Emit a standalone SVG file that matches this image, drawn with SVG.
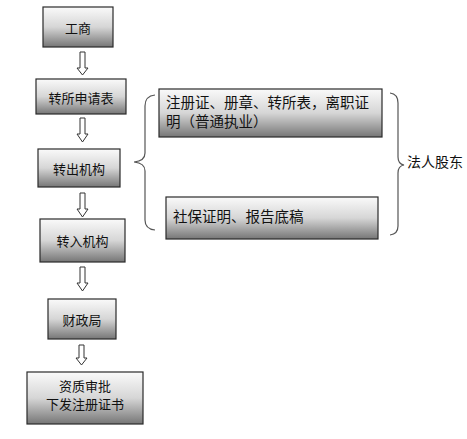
<svg xmlns="http://www.w3.org/2000/svg" width="467" height="439" viewBox="0 0 467 439">
<defs>
<linearGradient id="g" x1="0" y1="0" x2="0" y2="1">
<stop offset="0" stop-color="#fafafa"/>
<stop offset="0.5" stop-color="#d6d6d6"/>
<stop offset="1" stop-color="#767676"/>
</linearGradient>
</defs>
<style>
.box{fill:url(#g);stroke:#2a2a2a;stroke-width:1.2}
.t{font-family:"Noto Sans CJK SC","Noto Sans",sans-serif;font-size:13px;fill:#111;text-anchor:middle;dominant-baseline:central}
.tl{font-family:"Noto Sans CJK SC","Noto Sans",sans-serif;font-size:14.5px;fill:#111}
.arr{fill:#fff;stroke:#333;stroke-width:1}
.br{fill:none;stroke:#555;stroke-width:1.2}
</style>
<rect width="467" height="439" fill="#fff"/>
<g id="n1"><rect class="box" x="43" y="7" width="70" height="40"/><text class="t" x="78" y="27">工商</text></g>
<g id="n2"><rect class="box" x="36" y="79" width="90" height="35"/><text class="t" x="81" y="97">转所申请表</text></g>
<g id="n3"><rect class="box" x="38" y="149" width="82" height="38"/><text class="t" x="79" y="168">转出机构</text></g>
<g id="n4"><rect class="box" x="40" y="219" width="85" height="43"/><text class="t" x="82.5" y="240">转入机构</text></g>
<g id="n5"><rect class="box" x="48" y="299" width="68" height="40"/><text class="t" x="82" y="319">财政局</text></g>
<g id="n6"><rect class="box" x="27" y="372" width="116" height="52"/><text class="t" x="85" y="385">资质审批</text><text class="t" x="85" y="403">下发注册证书</text></g>
<g id="nA"><rect class="box" x="159" y="89" width="223" height="48"/><text class="tl" x="166" y="108">注册证、册章、转所表，离职证</text><text class="tl" x="166" y="127">明（普通执业）</text></g>
<g id="nB"><rect class="box" x="166" y="197" width="212" height="42"/><text class="tl" x="173" y="222">社保证明、报告底稿</text></g>
<g id="nC"><text class="tl" x="407" y="167" style="font-size:14px">法人股东</text></g>
<g id="connectors">
<path class="arr" d="M80,52 h5 v16 h3 l-5.5,7 l-5.5,-7 h3 z"/>
<path class="arr" d="M80,118 h5 v16 h3 l-5.5,8 l-5.5,-8 h3 z"/>
<path class="arr" d="M80,193 h5 v16 h3 l-5.5,8 l-5.5,-8 h3 z"/>
<path class="arr" d="M80,267 h5 v16 h3 l-5.5,8 l-5.5,-8 h3 z"/>
<path class="arr" d="M79,345 h5 v13 h3 l-5.5,7 l-5.5,-7 h3 z"/>
<path class="br" d="M155,95 Q145,96 145,106 V153 Q145,161 134,162 Q145,163 145,171 V220 Q145,229 155,230"/>
<path class="br" d="M390,93 Q398,94 398,103 V157 Q398,164 404,165 Q398,166 398,173 V226 Q398,234 390,235"/>
</g>
</svg>
